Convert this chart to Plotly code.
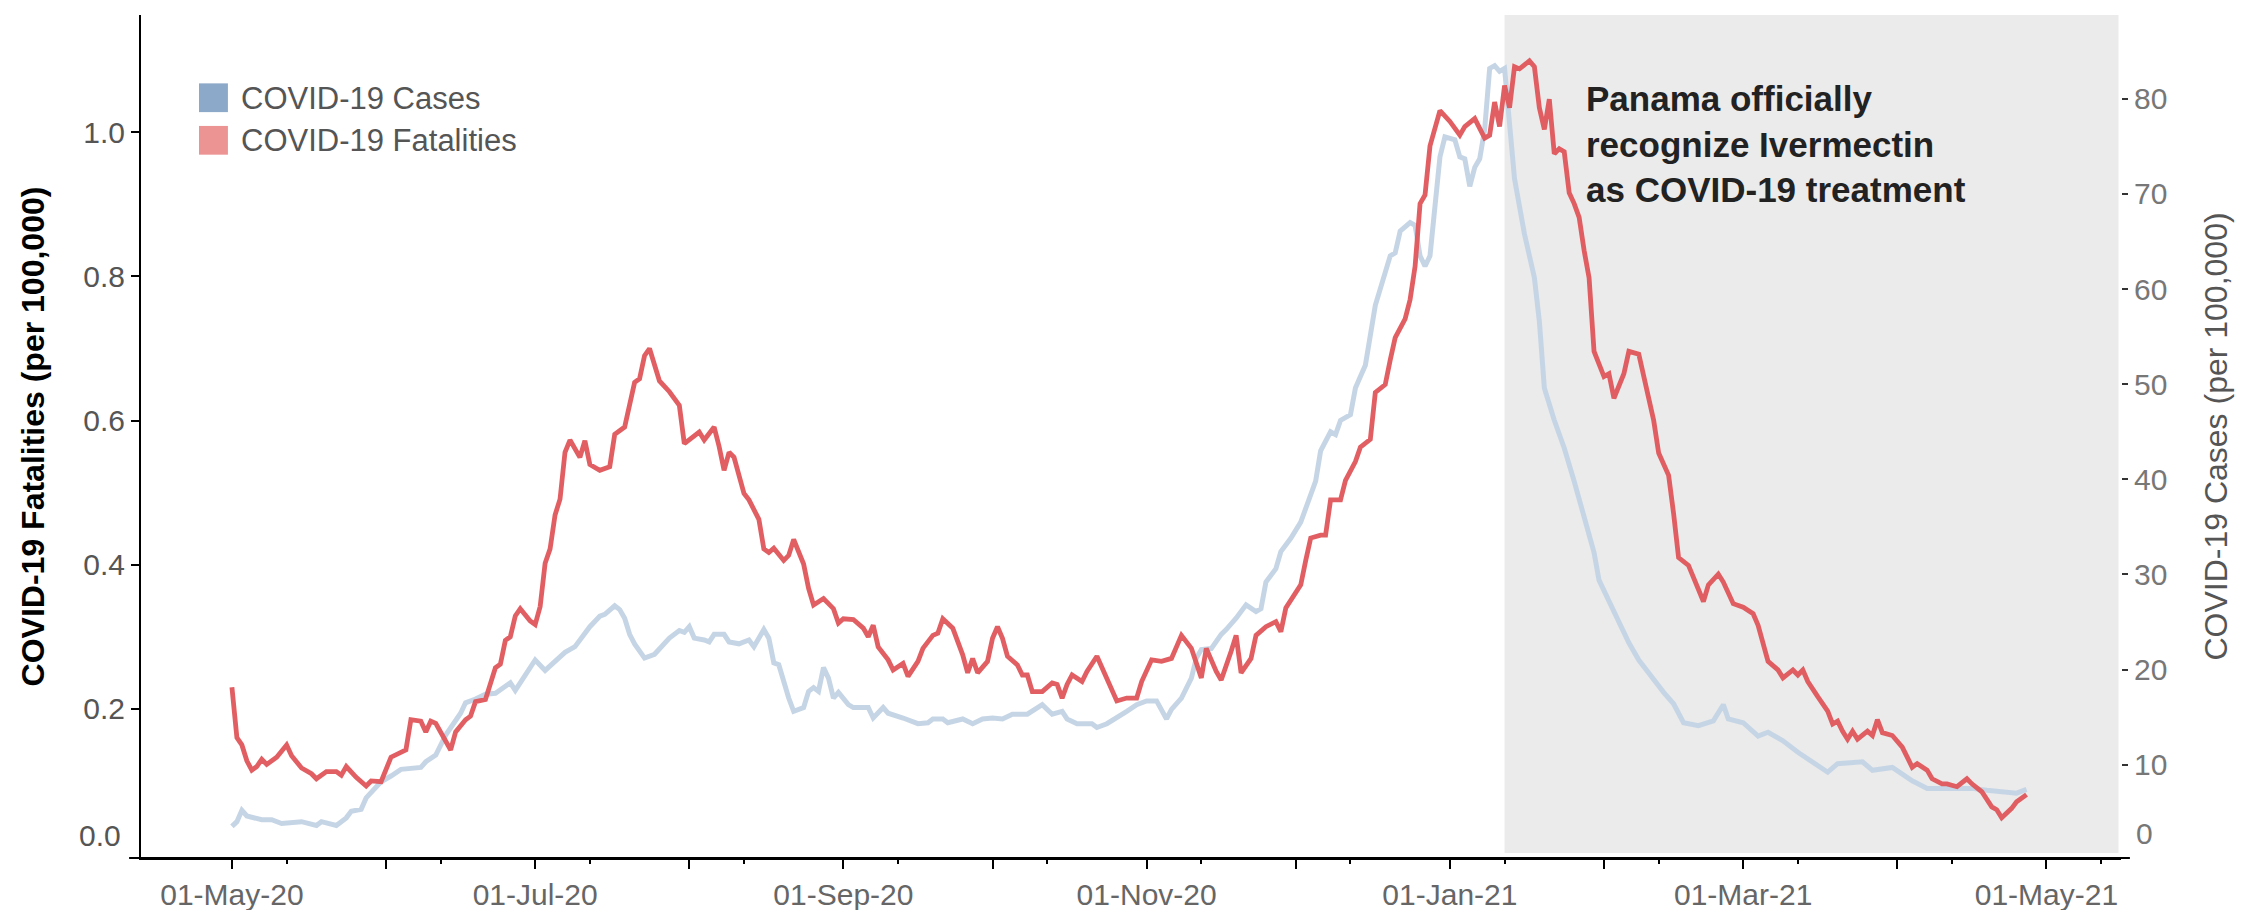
import pandas as pd
import plotly.graph_objects as go

FONT = "Liberation Sans, Arial, sans-serif"

# ---------------- data ----------------
start_date = "2020-05-01"

# COVID-19 fatalities per 100,000 (left axis); days after 2020-05-01
fat_day = [0, 1, 2, 3, 4, 5, 6, 7, 9, 11,
           12, 14, 16, 17, 19, 21, 22, 23, 25, 27,
           28, 30, 32, 35, 36, 38, 39, 40, 41, 44,
           45, 47, 48, 49, 51, 53, 54, 55, 56, 57,
           58, 60, 61, 62, 63, 64, 65, 66, 67, 68,
           70, 71, 72, 74, 76, 77, 79, 80, 81, 82,
           83, 84, 85, 86, 88, 89, 90, 91, 93, 94,
           95, 97, 98, 99, 100, 101, 103, 104, 106, 107,
           108, 109, 111, 112, 113, 115, 116, 117, 119, 121,
           122, 123, 125, 127, 128, 129, 130, 132, 133, 135,
           136, 138, 139, 141, 142, 143, 145, 147, 148, 149,
           150, 152, 153, 154, 155, 156, 158, 159, 160, 161,
           163, 165, 166, 167, 168, 169, 171, 172, 174, 176,
           177, 178, 180, 182, 183, 185, 187, 188, 189, 191,
           193, 195, 196, 198, 199, 201, 202, 203, 205, 206,
           208, 210, 211, 212, 214, 215, 216, 217, 219, 220,
           221, 223, 224, 226, 227, 229, 230, 232, 233, 234,
           236, 237, 238, 239, 240, 241, 243, 245, 247, 248,
           250, 252, 253, 254, 255, 256, 257, 258, 259, 261,
           262, 263, 264, 265, 266, 267, 268, 269, 270, 271,
           272, 273, 274, 275, 276, 277, 278, 280, 281, 283,
           285, 286, 287, 289, 290, 291, 293, 295, 296, 297,
           299, 300, 302, 304, 306, 307, 308, 309, 311, 312,
           314, 315, 316, 317, 319, 321, 322, 323, 324, 325,
           326, 327, 329, 330, 331, 332, 334, 336, 337, 338,
           339, 341, 342, 344, 345, 347, 349, 350, 352, 354,
           355, 356, 358, 359, 361]
fat_val = [0.230, 0.160, 0.150, 0.128, 0.115, 0.120, 0.130, 0.123, 0.133, 0.150,
           0.135, 0.118, 0.110, 0.103, 0.113, 0.113, 0.108, 0.120, 0.105, 0.093,
           0.100, 0.099, 0.133, 0.143, 0.185, 0.183, 0.168, 0.183, 0.180, 0.143,
           0.168, 0.185, 0.190, 0.210, 0.213, 0.257, 0.262, 0.295, 0.300, 0.329,
           0.339, 0.322, 0.317, 0.342, 0.402, 0.422, 0.469, 0.491, 0.556, 0.573,
           0.549, 0.572, 0.539, 0.531, 0.536, 0.581, 0.591, 0.626, 0.653, 0.658,
           0.690, 0.700, 0.676, 0.655, 0.640, 0.631, 0.621, 0.568, 0.579, 0.584,
           0.573, 0.591, 0.564, 0.531, 0.556, 0.549, 0.499, 0.490, 0.463, 0.422,
           0.417, 0.423, 0.406, 0.413, 0.435, 0.401, 0.367, 0.344, 0.353, 0.339,
           0.319, 0.325, 0.324, 0.312, 0.300, 0.316, 0.286, 0.268, 0.254, 0.263,
           0.245, 0.266, 0.284, 0.302, 0.305, 0.325, 0.312, 0.275, 0.250, 0.270,
           0.250, 0.266, 0.298, 0.314, 0.298, 0.273, 0.261, 0.247, 0.247, 0.224,
           0.224, 0.236, 0.234, 0.215, 0.234, 0.247, 0.238, 0.252, 0.273, 0.243,
           0.227, 0.211, 0.215, 0.215, 0.238, 0.268, 0.266, 0.268, 0.270, 0.302,
           0.284, 0.243, 0.284, 0.252, 0.240, 0.280, 0.302, 0.250, 0.270, 0.302,
           0.314, 0.321, 0.307, 0.340, 0.361, 0.372, 0.406, 0.437, 0.441, 0.441,
           0.490, 0.490, 0.517, 0.543, 0.563, 0.574, 0.639, 0.650, 0.684, 0.715,
           0.741, 0.768, 0.814, 0.901, 0.913, 0.981, 1.030, 1.015, 0.996, 1.008,
           1.019, 0.992, 0.996, 1.042, 1.008, 1.065, 1.034, 1.091, 1.088, 1.099,
           1.091, 1.034, 1.004, 1.046, 0.970, 0.977, 0.973, 0.916, 0.901, 0.882,
           0.836, 0.798, 0.696, 0.677, 0.661, 0.665, 0.631, 0.665, 0.696, 0.692,
           0.627, 0.600, 0.555, 0.524, 0.471, 0.410, 0.399, 0.365, 0.349, 0.372,
           0.387, 0.376, 0.346, 0.341, 0.332, 0.316, 0.288, 0.266, 0.254, 0.243,
           0.254, 0.247, 0.254, 0.238, 0.217, 0.197, 0.179, 0.183, 0.169, 0.158,
           0.169, 0.158, 0.169, 0.163, 0.185, 0.167, 0.163, 0.147, 0.133, 0.119,
           0.124, 0.115, 0.103, 0.096, 0.096, 0.092, 0.103, 0.096, 0.085, 0.064,
           0.060, 0.049, 0.062, 0.071, 0.081]

# COVID-19 cases per 100,000 (right axis); days after 2020-05-01
case_day = [0, 1, 2, 3, 6, 8, 10, 14, 17, 18,
            21, 23, 24, 26, 27, 29, 30, 32, 34, 38,
            39, 41, 43, 46, 47, 49, 51, 53, 56, 57,
            60, 61, 63, 65, 67, 69, 71, 72, 74, 75,
            77, 78, 79, 80, 81, 83, 85, 87, 88, 90,
            91, 92, 93, 95, 96, 97, 99, 100, 102, 104,
            105, 107, 108, 109, 110, 112, 113, 115, 116, 117,
            118, 119, 120, 121, 122, 124, 125, 128, 129, 131,
            132, 135, 138, 140, 141, 143, 144, 147, 149, 151,
            153, 155, 157, 160, 161, 163, 165, 167, 168, 170,
            173, 174, 176, 178, 180, 182, 184, 186, 187, 188,
            189, 191, 193, 194, 195, 197, 199, 200, 202, 203,
            204, 206, 207, 208, 210, 211, 213, 215, 216, 218,
            219, 221, 222, 223, 225, 226, 227, 228, 230, 232,
            233, 234, 235, 237, 238, 239, 240, 241, 242, 243,
            244, 246, 247, 248, 249, 250, 251, 252, 253, 254,
            255, 256, 257, 258, 260, 262, 263, 264, 266, 268,
            270, 272, 274, 275, 277, 279, 281, 283, 285, 288,
            290, 292, 295, 298, 300, 301, 304, 307, 309, 312,
            315, 319, 321, 323, 328, 330, 334, 336, 338, 341,
            345, 350, 353, 357, 359, 361]
case_val = [3.5, 4.0, 5.2, 4.6, 4.2, 4.2, 3.8, 4.0, 3.6, 4.0,
            3.6, 4.4, 5.1, 5.3, 6.5, 7.6, 8.2, 8.8, 9.5, 9.7,
            10.3, 11.0, 13.1, 15.4, 16.5, 16.9, 17.4, 17.5, 18.6, 17.8,
            20.1, 21.0, 19.9, 20.9, 21.8, 22.4, 23.9, 24.5, 25.6, 25.8,
            26.7, 26.3, 25.4, 23.7, 22.7, 21.2, 21.6, 22.7, 23.3, 24.1,
            23.9, 24.5, 23.3, 23.1, 22.9, 23.7, 23.7, 22.9, 22.7, 23.1,
            22.4, 24.2, 23.3, 20.7, 20.5, 17.0, 15.6, 16.0, 17.7, 18.1,
            17.7, 20.2, 19.1, 17.0, 17.6, 16.3, 16.0, 16.0, 14.9, 16.0,
            15.4, 14.9, 14.3, 14.4, 14.8, 14.8, 14.4, 14.8, 14.3, 14.8,
            14.9, 14.8, 15.3, 15.3, 15.6, 16.3, 15.3, 15.6, 14.8, 14.3,
            14.3, 13.9, 14.3, 14.9, 15.6, 16.3, 16.7, 16.7, 15.8, 14.8,
            15.8, 17.0, 19.1, 21.2, 22.1, 22.2, 23.7, 24.2, 25.4, 26.1,
            26.8, 26.1, 26.4, 29.2, 30.6, 32.4, 33.8, 35.5, 37.0, 39.8,
            43.0, 45.0, 44.7, 46.2, 46.8, 49.6, 50.8, 52.0, 58.3, 61.8,
            63.5, 63.8, 66.1, 67.0, 66.7, 63.5, 62.4, 63.5, 69.3, 73.9,
            76.0, 75.7, 73.9, 73.7, 70.8, 72.8, 73.7, 76.8, 83.2, 83.5,
            82.9, 83.2, 77.4, 71.6, 65.8, 61.2, 56.6, 49.6, 46.2, 43.3,
            39.8, 35.8, 32.3, 29.4, 27.1, 24.8, 22.8, 21.0, 19.6, 17.6,
            16.4, 14.4, 14.1, 14.6, 16.3, 14.8, 14.4, 13.0, 13.4, 12.5,
            11.3, 9.9, 9.2, 10.1, 10.3, 9.4, 9.7, 9.0, 8.3, 7.5,
            7.5, 7.5, 7.3, 7.1, 7.0, 7.4]

# axis ticks
month_ticks = ["2020-05-01", "2020-06-01", "2020-07-01", "2020-08-01", "2020-09-01",
               "2020-10-01", "2020-11-01", "2020-12-01", "2021-01-01", "2021-02-01",
               "2021-03-01", "2021-04-01", "2021-05-01"]
month_labels = ["01-May-20", "", "01-Jul-20", "", "01-Sep-20", "", "01-Nov-20", "",
                "01-Jan-21", "", "01-Mar-21", "", "01-May-21"]
minor_ticks = ["2020-04-12", "2020-05-12", "2020-06-12", "2020-07-12", "2020-08-12",
               "2020-09-12", "2020-10-12", "2020-11-12", "2020-12-12", "2021-01-12",
               "2021-02-12", "2021-03-12", "2021-04-12", "2021-05-12"]
left_ticks = [0.2, 0.4, 0.6, 0.8, 1.0]
left_labels = ["0.2", "0.4", "0.6", "0.8", "1.0"]
right_ticks = [10, 20, 30, 40, 50, 60, 70, 80]

series_names = ["COVID-19 Cases", "COVID-19 Fatalities"]
note_text = "Panama officially<br>recognize Ivermectin<br>as COVID-19 treatment"
shade_start = "2021-01-12"

# ---------------- figure ----------------
t0 = pd.Timestamp(start_date)
fat_dates = t0 + pd.to_timedelta(fat_day, unit="D")
case_dates = t0 + pd.to_timedelta(case_day, unit="D")

fig = go.Figure()
fig.add_trace(go.Scatter(x=case_dates, y=case_val, mode="lines", name=series_names[0],
                         line=dict(color="#C6D5E5", width=5), yaxis="y",
                         showlegend=False))
fig.add_trace(go.Scatter(x=fat_dates, y=fat_val, mode="lines", name=series_names[1],
                         line=dict(color="#E0575A", width=4.8), opacity=0.95,
                         yaxis="y2", showlegend=False))

shapes = [
    dict(type="rect", xref="x", yref="paper", x0=shade_start, x1="2021-05-15 12:00",
         y0=0.006, y1=1.0, fillcolor="#EBEBEB", line=dict(width=0), layer="below"),
    # x-axis line running slightly past both y axes, as in the original
    dict(type="line", xref="paper", yref="paper", x0=-0.006, x1=1.0045, y0=0, y1=0,
         line=dict(color="black", width=2)),
    # legend swatches
    dict(type="rect", xref="paper", yref="paper", x0=0.0293, x1=0.0439,
         y0=0.8848, y1=0.9189, fillcolor="#8DA9C9", line=dict(width=0)),
    dict(type="rect", xref="paper", yref="paper", x0=0.0293, x1=0.0439,
         y0=0.8343, y1=0.8684, fillcolor="#EC9494", line=dict(width=0)),
]

annotations = [
    dict(text=series_names[0], xref="paper", yref="paper", x=0.0495, y=0.9013,
         xanchor="left", yanchor="middle", showarrow=False,
         font=dict(family=FONT, size=31, color="#555555")),
    dict(text=series_names[1], xref="paper", yref="paper", x=0.0495, y=0.8508,
         xanchor="left", yanchor="middle", showarrow=False,
         font=dict(family=FONT, size=31, color="#555555")),
    dict(text=note_text, xref="paper", yref="paper", x=0.7288, y=0.847,
         xanchor="left", yanchor="middle", align="left", showarrow=False,
         font=dict(family=FONT, size=35, color="#222222", weight="bold")),
    dict(text="0.0", xref="paper", yref="paper", x=-0.0091, y=0.027,
         xanchor="right", yanchor="middle", showarrow=False,
         font=dict(family=FONT, size=30, color="#555555")),
    dict(text="0", xref="paper", yref="paper", x=1.0066, y=0.029,
         xanchor="left", yanchor="middle", showarrow=False,
         font=dict(family=FONT, size=30, color="#777777")),
]

fig.update_layout(
    width=2259, height=910,
    margin=dict(l=133, r=146, t=7, b=52),
    paper_bgcolor="white", plot_bgcolor="white",
    font=dict(family=FONT, size=30, color="#555555"),
    showlegend=False,
    shapes=shapes,
    annotations=annotations,
    xaxis=dict(
        type="date", range=["2020-04-12 17:00", "2021-05-16 00:00"],
        tickmode="array", tickvals=month_ticks, ticktext=month_labels,
        ticks="outside", ticklen=9, tickwidth=2, tickcolor="black",
        showline=True, linecolor="black", linewidth=2,
        showgrid=False, zeroline=False,
        tickfont=dict(family=FONT, size=30, color="#666666"),
        minor=dict(tickmode="array", tickvals=minor_ticks, ticks="outside",
                   ticklen=4, tickwidth=2, tickcolor="black", showgrid=False),
    ),
    yaxis=dict(
        side="right", range=[0.18, 88.82],
        tickmode="array", tickvals=right_ticks,
        ticks="outside", ticklen=6, tickwidth=2, tickcolor="#333333",
        showline=False, showgrid=False, zeroline=False,
        tickfont=dict(family=FONT, size=30, color="#777777"),
        title=dict(text="COVID-19 Cases (per 100,000)", standoff=38,
                   font=dict(family=FONT, size=32, color="#555555")),
    ),
    yaxis2=dict(
        side="left", overlaying="y", range=[-0.0069, 1.1627],
        tickmode="array", tickvals=left_ticks, ticktext=left_labels,
        ticks="outside", ticklen=8, tickwidth=2, tickcolor="black",
        showline=True, linecolor="black", linewidth=2,
        showgrid=False, zeroline=False,
        tickfont=dict(family=FONT, size=30, color="#555555"),
        title=dict(text="COVID-19 Fatalities (per 100,000)", standoff=29,
                   font=dict(family=FONT, size=32, color="black", weight="bold")),
    ),
)

fig.write_html("out.html")
